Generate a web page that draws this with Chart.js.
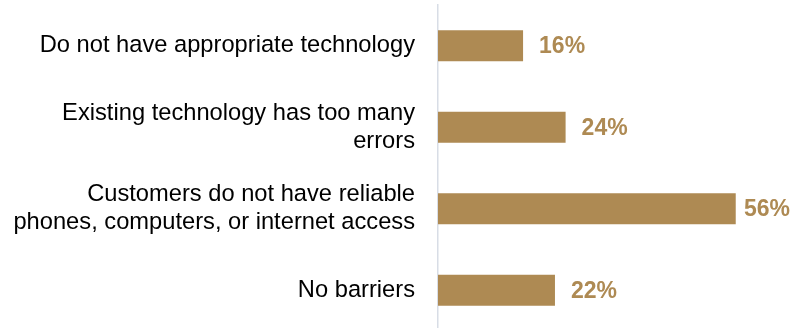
<!DOCTYPE html>
<html>
<head>
<meta charset="utf-8">
<script src="https://cdn.jsdelivr.net/npm/chart.js@4/dist/chart.umd.min.js"></script>
<style>
    html, body { margin: 0; padding: 0; background: #fff; overflow: hidden; }
    #wrap { position: relative; width: 793px; height: 331px; }
</style>
</head>
<body>
<div id="wrap"><canvas id="barriersChart"></canvas></div>
<script>
// Barreras (etiquetas en varias líneas) y porcentajes
const categories = [
    'Do not have appropriate technology',
    ['Existing technology has too many', 'errors'],
    ['Customers do not have reliable', 'phones, computers, or internet access'],
    'No barriers'
];
const percentages = [16, 24, 56, 22];
const axisMax = 60;

const barColor = '#AE8A53';
const fontFamily = '"Liberation Sans", Arial, sans-serif';

// Plugin para escribir el valor al final de cada barra
const valueLabels = {
    id: 'valueLabels',
    afterDatasetsDraw(chart) {
        const ctx = chart.ctx;
        const meta = chart.getDatasetMeta(0);
        ctx.save();
        ctx.font = 'bold 23px ' + fontFamily;
        ctx.fillStyle = barColor;
        ctx.textAlign = 'left';
        ctx.textBaseline = 'middle';
        meta.data.forEach((bar, i) => {
            const text = percentages[i] + '%';
            // si no cabe, se acerca a la barra
            const x = Math.min(bar.x + 16, chart.width - ctx.measureText(text).width - 3);
            ctx.fillText(text, x, bar.y + 1);
        });
        ctx.restore();
    }
};

document.addEventListener('DOMContentLoaded', function() {
    const ctx = document.getElementById('barriersChart');
    new Chart(ctx.getContext('2d'), {
        type: 'bar',
        data: {
            labels: categories,
            datasets: [{
                data: percentages,
                backgroundColor: barColor,
                borderWidth: 0,
                barPercentage: 0.76,
                categoryPercentage: 0.5
            }]
        },
        options: {
            indexAxis: 'y',
            responsive: true,
            maintainAspectRatio: false,
            animation: false,
            layout: { padding: { top: 5, right: 36, bottom: 0, left: 0 } },
            plugins: {
                legend: { display: false },
                tooltip: { enabled: false }
            },
            scales: {
                x: {
                    display: false,
                    min: 0,
                    max: axisMax
                },
                y: {
                    // ancho fijo del eje y sin márgenes extra arriba/abajo
                    afterFit: (scale) => {
                        scale.width = 438;
                        scale.paddingTop = 0;
                        scale.paddingBottom = 0;
                    },
                    grid: { display: false, drawTicks: false },
                    border: { display: true, color: '#D8DDE6', width: 1.5 },
                    ticks: {
                        padding: 23,
                        color: '#000',
                        font: { family: fontFamily, size: 23.7, lineHeight: 1.18 }
                    }
                }
            }
        },
        plugins: [valueLabels]
    });
});
</script>
</body>
</html>
